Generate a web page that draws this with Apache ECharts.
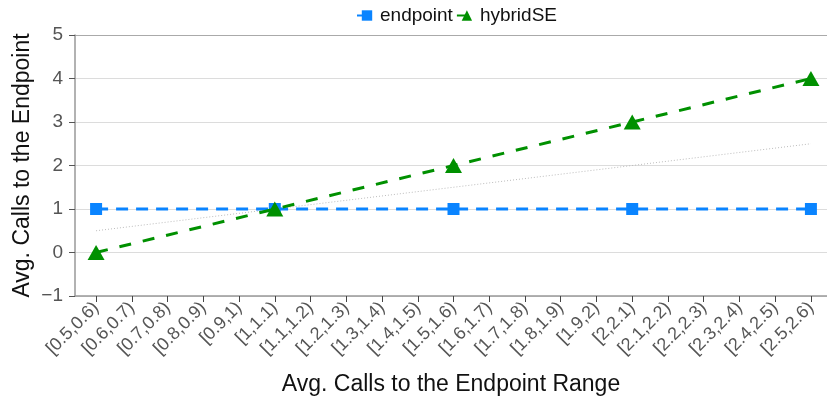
<!DOCTYPE html>
<html>
<head>
<meta charset="utf-8">
<script src="https://cdn.jsdelivr.net/npm/echarts@6/dist/echarts.min.js"></script>
<style>
html,body{margin:0;padding:0;background:#fff;}
#chart{width:827px;height:404px;}
</style>
</head>
<body>
<div id="chart"></div>
<script>
var categories = ["[0.5,0.6)","[0.6,0.7)","[0.7,0.8)","[0.8,0.9)","[0.9,1)","[1,1.1)","[1.1,1.2)","[1.2,1.3)","[1.3,1.4)","[1.4,1.5)","[1.5,1.6)","[1.6,1.7)","[1.7,1.8)","[1.8,1.9)","[1.9,2)","[2,2.1)","[2.1,2.2)","[2.2,2.3)","[2.3,2.4)","[2.4,2.5)","[2.5,2.6)"];
var endpointIdx = [0, 5, 10, 15, 20];
var endpointVals = [1, 1, 1, 1, 1];
var hybridIdx = [0, 5, 10, 15, 20];
var hybridVals = [0, 1, 2, 3, 4];
var trendIdx = [0, 20];
var trendVals = [0.5, 2.5];
var yTicks = [-1, 0, 1, 2, 3, 4, 5];

function pairs(xs, ys){ return xs.map(function(x,i){ return [x, ys[i]]; }); }
var tickIdx = categories.map(function(c,i){ return i; });
var gridColors = yTicks.map(function(v,i){ return i === yTicks.length-1 ? '#aaaaaa' : '#dcdcdc'; });

var chart = echarts.init(document.getElementById('chart'), null, {renderer:'canvas'});
var font = 'Liberation Sans, Arial, sans-serif';
chart.setOption({
  animation: false,
  textStyle: {fontFamily: font},
  legend: {
    top: 1, left: 351, itemGap: 3, itemWidth: 20, itemHeight: 13,
    textStyle: {fontSize: 19, color: '#111', fontFamily: font, padding: [0, 0, 0, -2]},
    data: ['endpoint', 'hybridSE']
  },
  grid: {left: 75, right: 0, top: 35, bottom: 108},
  xAxis: {
    type: 'value', min: -0.59, max: 20.45,
    name: 'Avg. Calls to the Endpoint Range', nameLocation: 'middle', nameGap: 77, nameMoveOverlap: false,
    nameTextStyle: {fontSize: 23, color: '#111', fontFamily: font},
    axisLine: {show: true, onZero: false, lineStyle: {color: '#999', width: 1.5}},
    axisTick: {show: true, customValues: tickIdx, length: 6, lineStyle: {color: '#444'}},
    axisLabel: {customValues: tickIdx, rotate: 45, fontSize: 18, color: '#555', margin: 9,
      formatter: function(v){ return categories[Math.round(v)]; }},
    splitLine: {show: false}
  },
  yAxis: {
    type: 'value', min: yTicks[0], max: yTicks[yTicks.length-1], interval: 1,
    name: 'Avg. Calls to the Endpoint', nameLocation: 'middle', nameGap: 41, nameMoveOverlap: false,
    nameTextStyle: {fontSize: 23, color: '#111', fontFamily: font},
    axisLine: {show: true, onZero: false, lineStyle: {color: '#999', width: 1.5}},
    axisTick: {show: true, length: 6, lineStyle: {color: '#555'}},
    axisLabel: {fontSize: 19, color: '#555', margin: 12,
      formatter: function(v){ return v < 0 ? '\u2212' + Math.abs(v) : String(v); }},
    splitLine: {show: true, lineStyle: {color: gridColors, width: 1}}
  },
  series: [
    {
      name: 'endpoint', type: 'line', data: pairs(endpointIdx, endpointVals),
      symbol: 'rect', symbolSize: 12, z: 3,
      itemStyle: {color: '#0a84ff'},
      lineStyle: {color: '#0a84ff', width: 3, type: [12, 8]}
    },
    {
      name: 'hybridSE', type: 'line', data: pairs(hybridIdx, hybridVals),
      symbol: 'triangle', symbolSize: [17, 15], z: 4,
      itemStyle: {color: '#009000'},
      lineStyle: {color: '#009000', width: 3, type: [12, 12]}
    },
    {
      name: 'trend', type: 'line', data: pairs(trendIdx, trendVals),
      symbol: 'none', z: 2, silent: true,
      lineStyle: {color: '#bbb', width: 1, type: [1, 2]}
    }
  ]
});
</script>
</body>
</html>
